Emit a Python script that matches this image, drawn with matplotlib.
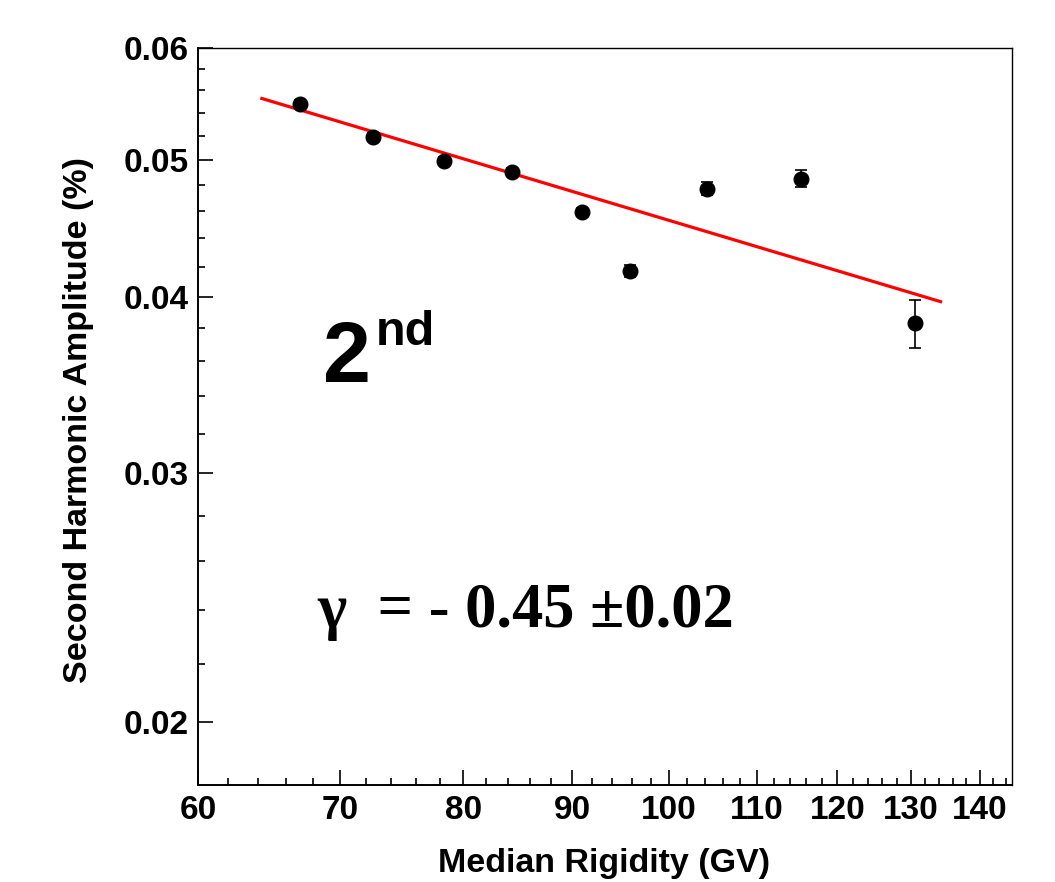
import numpy as np
import matplotlib.pyplot as plt
from matplotlib.ticker import FixedLocator, NullFormatter, FixedFormatter

# --- measured second-harmonic amplitudes vs median rigidity ---
rigidity = [67.0, 72.5, 78.3, 84.3, 91.0, 95.8, 104.2, 115.3, 130.5]
amplitude = [0.0548, 0.0519, 0.0499, 0.0490, 0.0459, 0.0417, 0.0477, 0.0485, 0.0383]
amp_err = [0.0003, 0.0003, 0.0003, 0.0003, 0.0003, 0.0004, 0.0005, 0.0007, 0.0015]

# power-law fit A * (R/100)^gamma
fit_gamma = -0.45
fit_gamma_err = 0.02
fit_norm_100 = 0.0453
fit_range = (64.3, 134.2)

x_major = [60, 70, 80, 90, 100, 110, 120, 130, 140]
y_major = [0.02, 0.03, 0.04, 0.05, 0.06]

SANS = 'Liberation Sans'
SERIF = 'Liberation Serif'

fig = plt.figure(figsize=(10.55, 8.82), dpi=100)
ax = fig.add_axes([0.1877, 0.1100, 0.9592 - 0.1877, 0.9456 - 0.1100])

ax.set_xscale('log')
ax.set_yscale('log')
ax.set_xlim(60, 145)
ax.set_ylim(0.01805, 0.06)

# fit line
rr = np.linspace(fit_range[0], fit_range[1], 200)
ax.plot(rr, fit_norm_100 * (rr / 100.0) ** fit_gamma, color='#ff0000', lw=2.3, zorder=2)

# data points
ax.errorbar(rigidity, amplitude, yerr=amp_err, fmt='o', color='black',
            markersize=10.5, elinewidth=1.2, capsize=4, capthick=1.2, zorder=3)

# ROOT-like axes: ticks inside, only on left/bottom
ax.xaxis.set_major_locator(FixedLocator(x_major))
ax.xaxis.set_major_formatter(FixedFormatter([str(v) for v in x_major]))
ax.xaxis.set_minor_locator(FixedLocator([v for v in np.arange(60, 146, 2) if v % 10 != 0]))
ax.xaxis.set_minor_formatter(NullFormatter())

ax.yaxis.set_major_locator(FixedLocator(y_major))
ax.yaxis.set_major_formatter(FixedFormatter([f'{v:.2f}' for v in y_major]))
ax.yaxis.set_minor_locator(FixedLocator([round(v, 3) for v in np.arange(0.018, 0.0601, 0.002)
                                         if round(v * 1000) % 10 != 0]))
ax.yaxis.set_minor_formatter(NullFormatter())

ax.tick_params(which='both', direction='in', top=False, right=False, width=1.2)
ax.tick_params(which='major', length=11)
ax.tick_params(axis='x', which='major', pad=7)
ax.tick_params(axis='y', which='major', pad=7)
ax.tick_params(which='minor', length=5)
for lab in ax.get_xticklabels() + ax.get_yticklabels():
    lab.set_fontfamily(SANS)
    lab.set_fontweight('bold')
    lab.set_fontsize(24)

for side in ['left', 'bottom']:
    ax.spines[side].set_linewidth(1.4)
for side in ['top', 'right']:
    ax.spines[side].set_linewidth(1.0)

fig.text(0.0745, 0.524, 'Second Harmonic Amplitude (%)', rotation=90, ha='center', va='center',
         fontfamily=SANS, fontweight='bold', fontsize=24.5)
fig.text(0.573, 0.0113, 'Median Rigidity (GV)', ha='center', va='baseline',
         fontfamily=SANS, fontweight='bold', fontsize=24.5)

# harmonic label
fig.text(0.306, 0.567, '2', ha='left', va='baseline', fontfamily=SANS, fontweight='bold', fontsize=62)
fig.text(0.356, 0.609, 'nd', ha='left', va='baseline', fontfamily=SANS, fontweight='bold', fontsize=35)

# fitted spectral index
fig.text(0.301, 0.289, f'\u03b3  = - {abs(fit_gamma):.2f} \u00b1{fit_gamma_err:.2f}', ha='left', va='baseline',
         fontfamily=SERIF, fontweight='bold', fontsize=45)

fig.savefig('out.png', dpi=100)
